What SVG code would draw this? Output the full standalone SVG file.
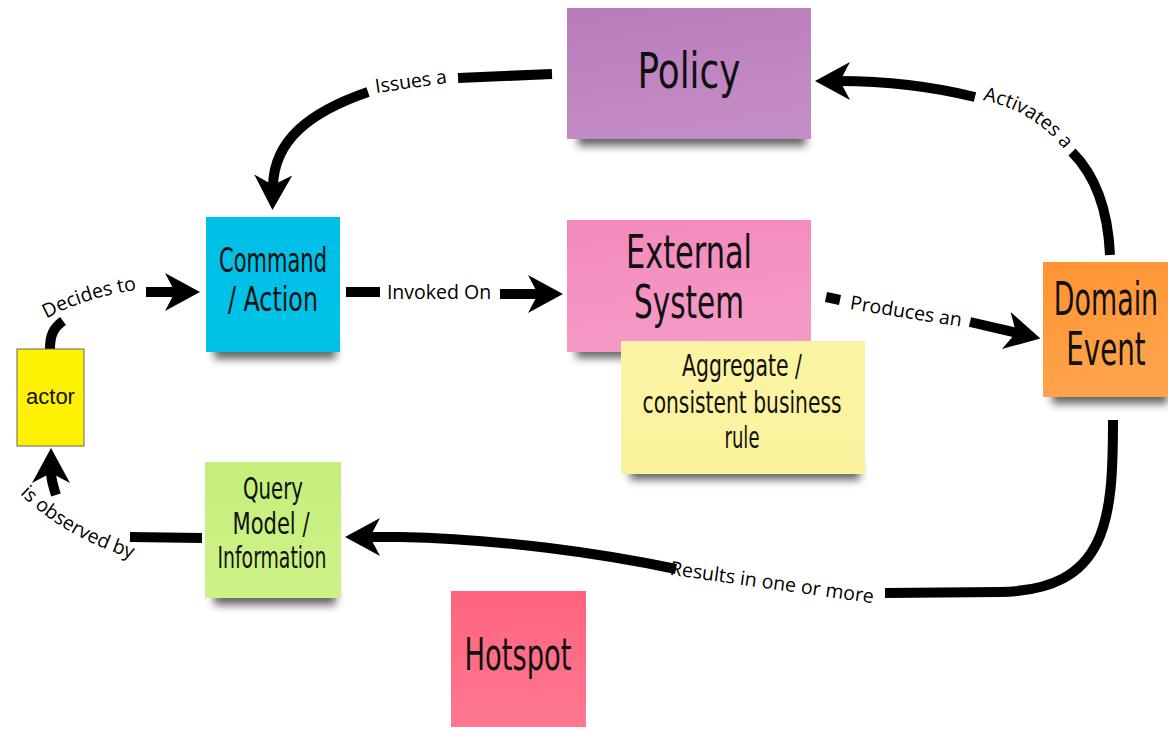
<svg xmlns="http://www.w3.org/2000/svg" width="1168" height="729" viewBox="0 0 1168 729">
  <style>
    .hand { font-family: "DejaVu Sans Condensed", "DejaVu Sans", sans-serif; fill: #111; text-anchor: middle; }
    .lbl { font-family: "Open Sans", "Liberation Sans", sans-serif; font-size: 19.5px; fill: #000; }
    .lblm { font-family: "Open Sans", "Liberation Sans", sans-serif; font-size: 19.5px; fill: #000; text-anchor: middle; }
    .wire { fill: none; stroke: #000; stroke-width: 10; }
    .arrow { fill: none; stroke: #000; stroke-width: 10; marker-end: url(#head); }
    .shadow { fill: #000; opacity: 0.6; filter: url(#soft); }
  </style>
  <defs>
    <filter id="soft" x="-20%" y="-100%" width="140%" height="300%">
      <feGaussianBlur stdDeviation="4"/>
    </filter>
    <marker id="head" markerUnits="userSpaceOnUse" markerWidth="40" markerHeight="44" viewBox="-36 -22 40 44" refX="-24" refY="0" orient="auto">
      <path d="M0,0 L-35,-19 L-25,0 L-35,19 Z" fill="#000"/>
    </marker>
    <linearGradient id="gPolicy" x1="0" y1="0" x2="0.3" y2="1">
      <stop offset="0" stop-color="#b87bbc"/><stop offset="1" stop-color="#c48cc4"/>
    </linearGradient>
    <linearGradient id="gCmd" x1="0" y1="0" x2="0" y2="1">
      <stop offset="0" stop-color="#00bfe7"/><stop offset="1" stop-color="#00c2e6"/>
    </linearGradient>
    <linearGradient id="gExt" x1="0" y1="0" x2="0.3" y2="1">
      <stop offset="0" stop-color="#f389bb"/><stop offset="1" stop-color="#f59ac6"/>
    </linearGradient>
    <linearGradient id="gAgg" x1="0" y1="0" x2="0" y2="1">
      <stop offset="0" stop-color="#fbf4a4"/><stop offset="1" stop-color="#fbf29c"/>
    </linearGradient>
    <linearGradient id="gDom" x1="0" y1="0" x2="0.3" y2="1">
      <stop offset="0" stop-color="#ff9330"/><stop offset="1" stop-color="#ffa44c"/>
    </linearGradient>
    <linearGradient id="gQry" x1="0" y1="0" x2="0" y2="1">
      <stop offset="0" stop-color="#c5ee7b"/><stop offset="1" stop-color="#cdf387"/>
    </linearGradient>
    <linearGradient id="gHot" x1="0" y1="0" x2="0" y2="1">
      <stop offset="0" stop-color="#ff637e"/><stop offset="1" stop-color="#ff7890"/>
    </linearGradient>
    <path id="pDecides" d="M40,322 Q85,296 144,289"/>
    <path id="pObserved" d="M14,488 Q62,538 140,561"/>
    <path id="pActivates" d="M970,98 Q1035,106 1072,160"/>
  </defs>

  <rect width="1168" height="729" fill="#fff"/>

  <!-- connectors -->
  <g id="connectors">
    <!-- Policy issues a Command -->
    <path class="wire" d="M552,74 L458,78"/>
    <text class="lblm" x="411" y="88" transform="rotate(-8 411 82)">Issues a</text>
    <path class="arrow" d="M368,92 C310,112 274,140 273,186"/>

    <!-- Domain Event activates a Policy -->
    <path class="wire" d="M1110,255 C1108,210 1095,175 1072,152"/>
    <text class="lbl"><textPath href="#pActivates" startOffset="50%" text-anchor="middle">Activates a</textPath></text>
    <path class="arrow" d="M975,97 C930,86 880,81 839,81"/>

    <!-- actor decides to Command -->
    <path class="wire" d="M50,349 C50,336 53,328 63,321"/>
    <text class="lbl"><textPath href="#pDecides" startOffset="50%" text-anchor="middle">Decides to</textPath></text>
    <path class="arrow" d="M146,292 L176,292"/>

    <!-- Command invoked on External System -->
    <path class="wire" d="M346,292 L380,292"/>
    <text class="lblm" x="439" y="299">Invoked On</text>
    <path class="arrow" d="M500,294 L539,294"/>

    <!-- External System produces an Domain Event -->
    <path class="wire" d="M826,297 L840,300"/>
    <text class="lblm" x="906" y="318" transform="rotate(9 906 312)">Produces an</text>
    <path class="arrow" d="M970,322 L1017,333"/>

    <!-- Domain Event results in Query Model -->
    <path class="wire" d="M1113,420 C1113,520 1108,590 1000,592 L885,593"/>
    <text class="lblm" x="772" y="589" transform="rotate(8 772 583)">Results in one or more</text>
    <path class="arrow" d="M676,569 C600,553 500,539 400,537 L369,537"/>

    <!-- Query Model is observed by actor -->
    <path class="wire" d="M202,538 L130,537"/>
    <text class="lbl"><textPath href="#pObserved" startOffset="50%" text-anchor="middle">is observed by</textPath></text>
    <path class="arrow" d="M56,495 C53,486 51,479 51,472"/>
  </g>

  <!-- stickies -->
  <g id="policy">
    <rect class="shadow" x="578" y="128" width="228" height="18"/>
    <rect x="567" y="8" width="244" height="131" fill="url(#gPolicy)"/>
    <text class="hand" x="689" y="88" font-size="50" textLength="103" lengthAdjust="spacingAndGlyphs">Policy</text>
  </g>

  <g id="command">
    <rect class="shadow" x="214" y="341" width="122" height="18"/>
    <rect x="206" y="217" width="134" height="135" fill="url(#gCmd)"/>
    <text class="hand" x="273" y="272" font-size="34" textLength="108" lengthAdjust="spacingAndGlyphs">Command</text>
    <text class="hand" x="273" y="311" font-size="34" textLength="90" lengthAdjust="spacingAndGlyphs">/ Action</text>
  </g>

  <g id="external-system">
    <rect class="shadow" x="576" y="340" width="230" height="18"/>
    <rect x="567" y="220" width="244" height="132" fill="url(#gExt)"/>
    <text class="hand" x="689" y="268" font-size="46" textLength="126" lengthAdjust="spacingAndGlyphs">External</text>
    <text class="hand" x="689" y="318" font-size="46" textLength="110" lengthAdjust="spacingAndGlyphs">System</text>
  </g>

  <g id="aggregate">
    <rect class="shadow" x="630" y="462" width="230" height="18"/>
    <rect x="621" y="341" width="244" height="133" fill="url(#gAgg)"/>
    <text class="hand" x="742" y="376" font-size="30" textLength="120" lengthAdjust="spacingAndGlyphs">Aggregate /</text>
    <text class="hand" x="742" y="413" font-size="30" textLength="199" lengthAdjust="spacingAndGlyphs">consistent business</text>
    <text class="hand" x="742" y="448" font-size="30" textLength="35" lengthAdjust="spacingAndGlyphs">rule</text>
  </g>

  <g id="domain-event">
    <rect class="shadow" x="1052" y="386" width="116" height="18"/>
    <rect x="1043" y="262" width="125" height="135" fill="url(#gDom)"/>
    <!-- narrowed by a horizontal scale so the words sit inside the note -->
    <text class="hand" font-size="46" transform="translate(1106 315) scale(0.65 1)">Domain</text>
    <text class="hand" font-size="46" transform="translate(1106 365) scale(0.67 1)">Event</text>
  </g>

  <g id="actor">
    <rect x="17" y="349" width="67" height="97" fill="#fff200" stroke="#666" stroke-width="1"/>
    <text x="50.5" y="404" font-family="Liberation Sans, Arial, sans-serif" font-size="22" text-anchor="middle" fill="#111">actor</text>
  </g>

  <g id="query-model">
    <rect class="shadow" x="214" y="587" width="122" height="18"/>
    <rect x="205" y="462" width="136" height="136" fill="url(#gQry)"/>
    <text class="hand" x="273" y="499" font-size="30" textLength="60" lengthAdjust="spacingAndGlyphs">Query</text>
    <text class="hand" x="271" y="534" font-size="30" textLength="77" lengthAdjust="spacingAndGlyphs">Model /</text>
    <text class="hand" x="272" y="568" font-size="30" textLength="109" lengthAdjust="spacingAndGlyphs">Information</text>
  </g>

  <g id="hotspot">
    <rect x="451" y="591" width="135" height="136" fill="url(#gHot)"/>
    <text class="hand" x="518" y="670" font-size="44" textLength="107" lengthAdjust="spacingAndGlyphs">Hotspot</text>
  </g>
</svg>
